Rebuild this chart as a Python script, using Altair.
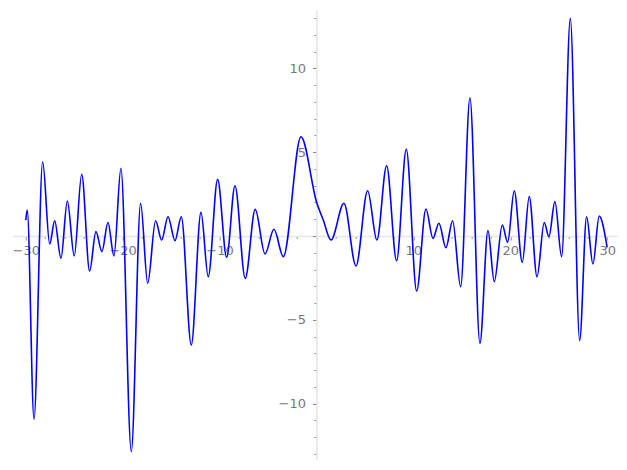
import altair as alt
import pandas as pd

xs = [-30.0, -29.85, -29.15, -28.26, -27.53, -27.02, -26.37, -25.71, -25.0, -24.23,
      -23.41, -22.76, -22.14, -21.52, -20.9, -20.18, -19.11, -18.15, -17.42, -16.6,
      -15.98, -15.32, -14.6, -13.95, -12.92, -11.92, -11.17, -10.2, -9.27, -8.41,
      -7.35, -6.32, -5.31, -4.39, -3.42, -1.6, 0.0, 0.7, 1.5, 2.84,
      4.08, 5.28, 6.24, 7.24, 8.27, 9.27, 10.34, 11.3, 12.02, 12.64,
      13.36, 14.05, 14.88, 15.84, 16.87, 17.7, 18.35, 19.18, 19.73, 20.41,
      21.24, 21.96, 22.76, 23.51, 23.99, 24.61, 25.3, 26.2, 27.16, 27.88,
      28.53, 29.18, 30.0]
ys = [0.95, 1.55, -10.93, 4.43, -0.48, 0.91, -1.33, 2.09, -1.19, 3.68,
      -2.09, 0.26, -0.93, 0.81, -1.19, 4.04, -12.86, 1.95, -2.82, 0.91,
      -0.24, 1.15, -0.28, 1.15, -6.5, 1.41, -2.43, 3.38, -1.27, 3.0,
      -2.53, 1.59, -1.07, 0.4, -1.23, 5.92, 2.05, 0.95, -0.24, 1.95,
      -1.79, 2.7, -0.24, 4.19, -1.47, 5.17, -3.28, 1.61, -0.14, 0.76,
      -0.7, 0.91, -3.02, 8.25, -6.4, 0.32, -2.72, 0.66, -0.38, 2.7,
      -1.57, 2.35, -2.43, 0.81, -0.04, 2.05, -1.23, 12.98, -6.24, 1.15,
      -1.67, 1.19, -0.68]

x_ticks = list(range(-30, 31, 2))
y_ticks = list(range(-13, 14))

XMIN, XMAX = -31.35, 31.15
YMIN, YMAX = -13.36, 13.48
W, H = 605.6, 450.0

x0_px = (0 - XMIN) / (XMAX - XMIN) * W
y0_px = (YMAX - 0) / (YMAX - YMIN) * H

df = pd.DataFrame({"x": xs, "y": ys})

label_color = "#777777"
font = "DejaVu Sans"

x_axis = alt.Axis(
    values=x_ticks,
    offset=-(H - y0_px),
    grid=False,
    title=None,
    domainColor="#e6e6e6",
    domainWidth=1.6,
    tickColor="#8c8c8c",
    tickWidth=1,
    tickSize={"condition": {"test": "datum.value % 10 === 0", "value": 4}, "value": 2.5},
    labelExpr="datum.value % 10 === 0 && datum.value !== 0 ? replace(format(datum.value, 'd'), '-', '\u2212') : ''",
    labelFont=font,
    labelFontSize=13,
    labelColor=label_color,
    labelPadding=4,
    labelFlush=False,
    labelOverlap=False,
)

y_axis = alt.Axis(
    values=y_ticks,
    offset=-x0_px,
    grid=False,
    title=None,
    domainColor="#e6e6e6",
    domainWidth=1.6,
    tickColor="#8c8c8c",
    tickWidth=1,
    tickSize={"condition": {"test": "datum.value % 5 === 0", "value": 4}, "value": 2.5},
    labelExpr="datum.value % 5 === 0 && datum.value !== 0 ? replace(format(datum.value, 'd'), '-', '\u2212') : ''",
    labelFont=font,
    labelFontSize=13,
    labelColor=label_color,
    labelPadding=7,
    labelFlush=False,
    labelOverlap=False,
)

chart = (
    alt.Chart(df)
    .mark_line(color="#0000ff", strokeWidth=1.6, interpolate="monotone", clip=True)
    .encode(
        x=alt.X("x:Q", scale=alt.Scale(domain=[XMIN, XMAX], nice=False, zero=False), axis=x_axis),
        y=alt.Y("y:Q", scale=alt.Scale(domain=[YMIN, YMAX], nice=False, zero=False), axis=y_axis),
    )
    .properties(
        width=W,
        height=H,
        background="white",
        autosize=alt.AutoSizeParams(type="none"),
        padding={"left": 4.7, "top": 2, "right": 0, "bottom": 0},
    )
    .configure_view(strokeWidth=0, stroke="transparent")
)

chart.save("out.html", embed_options={"renderer": "svg", "actions": False})
